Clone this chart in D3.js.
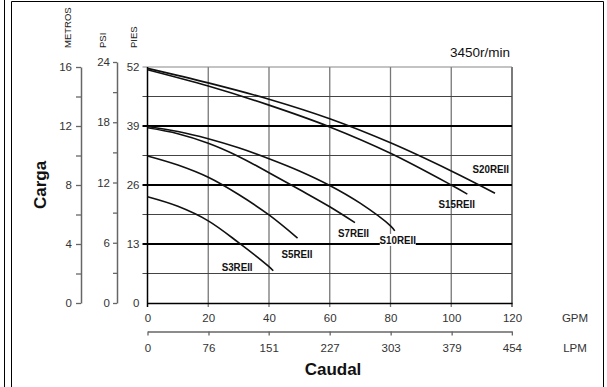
<!DOCTYPE html>
<html><head><meta charset="utf-8">
<script src="https://cdn.jsdelivr.net/npm/d3@7"></script>
<style>
html,body{margin:0;padding:0;background:#fff;}
svg{display:block;}
text{font-family:"Liberation Sans",Arial,sans-serif;}
</style></head>
<body>
<script>
// ---- data ----
const gpmTicks = [0, 20, 40, 60, 80, 100, 120];
const lpmTicks = [0, 76, 151, 227, 303, 379, 454];
const metrosTicks = [0, 2, 4, 6, 8, 10, 12, 14, 16];
const psiTicks = [0, 3, 6, 9, 12, 15, 18, 21, 24];
const piesTicks = [0, 13, 26, 39, 52];
const gridFt = [6.5, 13, 19.5, 26, 32.5, 39, 45.5, 52];

const seriesNames = ["S3REII", "S5REII", "S7REII", "S10REII", "S15REII", "S20REII"];
const s3Gpm  = [0, 10, 20, 30, 40, 41.4];
const s3Ft   = [23.4, 21.3, 18.1, 13.3, 8.0, 7.1];
const s5Gpm  = [0, 10, 20, 30, 40, 49.4];
const s5Ft   = [32.4, 30.4, 27.7, 23.9, 19.4, 14.3];
const s7Gpm  = [0, 10, 20, 30, 40, 50, 60, 68.3];
const s7Ft   = [38.6, 37.3, 35.2, 32.3, 28.7, 25.0, 21.2, 17.7];
const s10Gpm = [0, 10, 20, 30, 40, 50, 60, 70, 80, 81.4];
const s10Ft  = [38.9, 37.8, 36.2, 34.2, 31.8, 29.1, 25.9, 22.0, 17.0, 15.9];
const s15Gpm = [0, 20, 40, 60, 80, 100, 105.3];
const s15Ft  = [51.4, 47.8, 43.6, 38.8, 33.0, 26.0, 24.0];
const s20Gpm = [0, 20, 40, 60, 80, 100, 114.4];
const s20Ft  = [51.7, 48.5, 44.9, 40.6, 35.3, 29.1, 24.2];

// label anchors in data units (gpm, ft)
const labelGpm = [29.5, 49.2, 67.8, 82.4, 101.8, 113.0];
const labelFt  = [7.9, 10.8, 15.4, 13.9, 21.8, 29.5];

const series = [
  [s3Gpm, s3Ft], [s5Gpm, s5Ft], [s7Gpm, s7Ft],
  [s10Gpm, s10Ft], [s15Gpm, s15Ft], [s20Gpm, s20Ft]
].map(([g, f], i) => ({name: seriesNames[i], pts: g.map((v, j) => [v, f[j]])}));

// ---- layout ----
const W = 607, H = 387;
const svg = d3.select("body").append("svg").attr("width", W).attr("height", H);

const x = d3.scaleLinear().domain([0, 120]).range([147.5, 512]);
const xL = d3.scaleLinear().domain([0, 454.2]).range([147.5, 512]);
const yFt = d3.scaleLinear().domain([0, 52]).range([303, 67]);
const yM = d3.scaleLinear().domain([0, 16]).range([303, 67]);
const yPsi = d3.scaleLinear().domain([0, 24]).range([303, 62]);

// frame
svg.append("line").attr("x1", 4.5).attr("x2", 4.5).attr("y1", 0).attr("y2", H)
  .attr("stroke", "#000").attr("stroke-width", 1);
svg.append("path").attr("d", `M11.5,${H} V1.5 H603.5 V${H}`)
  .attr("fill", "none").attr("stroke", "#000").attr("stroke-width", 1);

// vertical grid
svg.append("g").selectAll("line").data(gpmTicks.slice(1)).join("line")
  .attr("x1", d => x(d)).attr("x2", d => x(d))
  .attr("y1", yFt(52)).attr("y2", yFt(0) + 4)
  .attr("stroke", d => d === 120 ? "#333" : "#777").attr("stroke-width", 1.3);

// horizontal grid
svg.append("g").selectAll("line").data(gridFt).join("line")
  .attr("x1", x(0) - 5).attr("x2", x(120))
  .attr("y1", d => yFt(d)).attr("y2", d => yFt(d))
  .attr("stroke", d => d === 52 ? "#888" : (d % 13 === 0 ? "#000" : "#444"))
  .attr("stroke-width", d => (d % 13 === 0 && d !== 52) ? 2 : 1.1);

// left plot border
svg.append("line").attr("x1", x(0)).attr("x2", x(0))
  .attr("y1", yFt(52)).attr("y2", yFt(0) + 4)
  .attr("stroke", "#000").attr("stroke-width", 1.5);

function styleAxis(g, color, fs) {
  g.select(".domain").attr("stroke", color).attr("stroke-width", 1.5);
  g.selectAll(".tick line").attr("stroke", color).attr("stroke-width", 1.3);
  g.selectAll("text").attr("fill", "#333").attr("font-size", fs)
    .attr("font-family", "'Liberation Sans', Arial, sans-serif");
}

// GPM axis
const gx = svg.append("g").attr("transform", `translate(0,${yFt(0)})`)
  .call(d3.axisBottom(x).tickValues(gpmTicks).tickSize(4).tickSizeOuter(0).tickPadding(7));
styleAxis(gx, "#000", 11.5);
gx.selectAll(".tick line").attr("stroke", "none");

// LPM axis
const gl = svg.append("g").attr("transform", "translate(0,331.5)")
  .call(d3.axisBottom(xL).tickValues(lpmTicks).tickSize(4).tickSizeOuter(0).tickPadding(8));
styleAxis(gl, "#666", 11.5);

// METROS axis
const gm = svg.append("g").attr("transform", "translate(81,0)")
  .call(d3.axisLeft(yM).tickValues(metrosTicks).tickSize(5).tickSizeOuter(0).tickPadding(4)
    .tickFormat(d => d % 4 === 0 ? d : ""));
styleAxis(gm, "#666", 11.5);

// PSI axis
const gp = svg.append("g").attr("transform", "translate(117,0)")
  .call(d3.axisLeft(yPsi).tickValues(psiTicks).tickSize(4).tickSizeOuter(0).tickPadding(3)
    .tickFormat(d => d % 6 === 0 ? d : ""));
styleAxis(gp, "#666", 11.5);

// PIES axis (labels only, ticks via gridlines)
const gf = svg.append("g").attr("transform", `translate(${x(0)},0)`)
  .call(d3.axisLeft(yFt).tickValues(piesTicks).tickSize(5).tickSizeOuter(0).tickPadding(3));
styleAxis(gf, "#000", 11.5);
gf.select(".domain").remove();
gf.selectAll(".tick line").attr("stroke", "none");

// axis unit titles (rotated)
const unitTitles = [["METROS", 67], ["PSI", 102], ["PIES", 133]];
svg.append("g").selectAll("text").data(unitTitles).join("text")
  .attr("transform", d => `translate(${d[1] + 3.5},48) rotate(-90)`)
  .attr("text-anchor", "start").attr("font-size", 9.5).attr("fill", "#222")
  .text(d => d[0]);

// GPM / LPM
svg.append("text").attr("x", 575).attr("y", 321.5).attr("text-anchor", "middle")
  .attr("font-size", 11.5).attr("fill", "#333").text("GPM");
svg.append("text").attr("x", 575).attr("y", 351.5).attr("text-anchor", "middle")
  .attr("font-size", 11.5).attr("fill", "#333").text("LPM");

// titles
svg.append("text").attr("x", 333).attr("y", 375).attr("text-anchor", "middle")
  .attr("font-family", "'Liberation Sans Narrow', 'Liberation Sans', sans-serif")
  .attr("font-weight", "bold").attr("font-size", 17).attr("fill", "#111").text("Caudal");
svg.append("text").attr("transform", "translate(46,185) rotate(-90)").attr("text-anchor", "middle")
  .attr("font-family", "'Liberation Sans Narrow', 'Liberation Sans', sans-serif")
  .attr("font-weight", "bold").attr("font-size", 17).attr("fill", "#111").text("Carga");
svg.append("text").attr("x", 510).attr("y", 57).attr("text-anchor", "end")
  .attr("font-family", "'Liberation Sans Narrow', 'Liberation Sans', sans-serif")
  .attr("font-size", 13.5).attr("fill", "#111").text("3450r/min");

// curves
const line = d3.line().x(d => x(d[0])).y(d => yFt(d[1])).curve(d3.curveCatmullRom.alpha(0.5));
svg.append("g").selectAll("path").data(series).join("path")
  .attr("d", d => line(d.pts)).attr("fill", "none")
  .attr("stroke", "#111").attr("stroke-width", 1.6);

// curve labels
const lg = svg.append("g");
series.forEach((s, i) => {
  const cx = x(labelGpm[i]), cy = yFt(labelFt[i]);
  if (s.name === "S10REII") {
    lg.append("rect").attr("x", cx - 18).attr("y", cy - 6).attr("width", 36).attr("height", 12)
      .attr("fill", "#fff");
  }
  lg.append("text").attr("transform", `translate(${cx},${cy + 4}) scale(0.85,1)`)
    .attr("text-anchor", "middle")
    .attr("font-family", "'Liberation Sans Narrow', 'Liberation Sans', sans-serif")
    .attr("font-weight", "bold").attr("font-size", 11.5).attr("fill", "#111")
    .text(s.name);
});
</script>
</body></html>
